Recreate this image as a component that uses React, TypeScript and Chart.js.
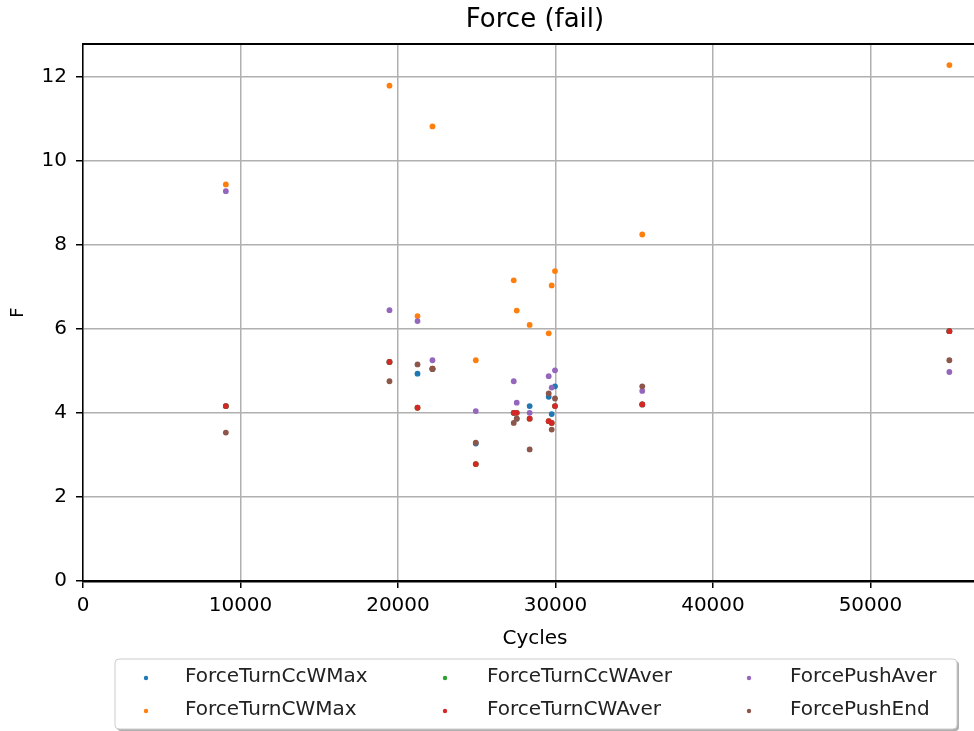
import { useEffect, useRef } from "react";
import { Chart, registerables } from "chart.js";

Chart.register(...registerables);

const cycles = [9070, 19460, 21240, 22190, 24940, 27350, 27540, 28360, 29570, 29760, 29970, 35510, 55010];
const forceTurnCcWMax = [4.16, 5.21, 4.93, 5.04, 3.27, 4.0, 3.86, 4.16, 4.38, 3.97, 4.63, 4.2, 5.94];
const forceTurnCWMax = [9.43, 11.78, 6.3, 10.81, 5.25, 7.15, 6.43, 6.09, 5.89, 7.03, 7.37, 8.24, 12.27];
const forceTurnCcWAver = [4.16, 5.21, 4.12, 5.05, 2.78, 4.0, 4.0, 3.86, 3.8, 3.76, 4.16, 4.2, 5.94];
const forceTurnCWAver = [4.16, 5.21, 4.12, 5.05, 2.78, 4.0, 4.0, 3.86, 3.8, 3.76, 4.16, 4.2, 5.94];
const forcePushAver = [9.27, 6.44, 6.18, 5.25, 4.04, 4.75, 4.24, 4.0, 4.87, 4.6, 5.01, 4.52, 4.97];
const forcePushEnd = [3.53, 4.75, 5.15, 5.04, 3.29, 3.76, 3.86, 3.13, 4.46, 3.6, 4.34, 4.63, 5.25];

const xTickValues = [0, 10000, 20000, 30000, 40000, 50000];
const yTickValues = [0, 2, 4, 6, 8, 10, 12];

const seriesLabels = [
  "ForceTurnCcWMax",
  "ForceTurnCWMax",
  "ForceTurnCcWAver",
  "ForceTurnCWAver",
  "ForcePushAver",
  "ForcePushEnd",
];
const seriesColors = ["#1f77b4", "#ff7f0e", "#2ca02c", "#d62728", "#9467bd", "#8c564b"];
const seriesValues = [forceTurnCcWMax, forceTurnCWMax, forceTurnCcWAver, forceTurnCWAver, forcePushAver, forcePushEnd];

const FONT = "'DejaVu Sans', sans-serif";

const framePlugin = {
  id: "frame",
  afterDraw(chart: any) {
    const { ctx, chartArea } = chart;
    ctx.save();
    ctx.strokeStyle = "#000";
    ctx.lineWidth = 2;
    ctx.beginPath();
    ctx.moveTo(chartArea.left, chartArea.top);
    ctx.lineTo(chartArea.right, chartArea.top);
    ctx.lineTo(chartArea.right, chartArea.bottom);
    ctx.stroke();

    // legend
    const bx = 115, by = 659, bw = 842, bh = 70, r = 4;
    const rr = (x: number, y: number, w: number, h: number) => {
      ctx.beginPath();
      ctx.moveTo(x + r, y);
      ctx.lineTo(x + w - r, y);
      ctx.quadraticCurveTo(x + w, y, x + w, y + r);
      ctx.lineTo(x + w, y + h - r);
      ctx.quadraticCurveTo(x + w, y + h, x + w - r, y + h);
      ctx.lineTo(x + r, y + h);
      ctx.quadraticCurveTo(x, y + h, x, y + h - r);
      ctx.lineTo(x, y + r);
      ctx.quadraticCurveTo(x, y, x + r, y);
      ctx.closePath();
    };
    ctx.fillStyle = "rgba(120,120,120,0.6)";
    rr(bx + 2, by + 2, bw, bh);
    ctx.fill();
    ctx.fillStyle = "#fff";
    rr(bx, by, bw, bh);
    ctx.fill();
    ctx.strokeStyle = "#cccccc";
    ctx.lineWidth = 1;
    ctx.stroke();

    const colMarker = [146, 445, 749];
    const colText = [185, 487, 790];
    const rowY = [677, 710];
    ctx.font = `20px ${FONT}`;
    ctx.textBaseline = "middle";
    ctx.textAlign = "left";
    chart.data.datasets.forEach((ds: any, i: number) => {
      const c = Math.floor(i / 2);
      const row = i % 2;
      ctx.fillStyle = ds.backgroundColor;
      ctx.beginPath();
      ctx.arc(colMarker[c], rowY[row] + 1, 2.2, 0, Math.PI * 2);
      ctx.fill();
      ctx.fillStyle = "#222";
      ctx.fillText(ds.label, colText[c], rowY[row]);
    });
    ctx.restore();
  },
};

export default function App() {
  const ref = useRef<HTMLCanvasElement>(null);
  useEffect(() => {
    const datasets = seriesLabels.map((label, k) => ({
      label,
      order: seriesLabels.length - k,
      data: cycles.map((x, i) => ({ x, y: seriesValues[k][i] })),
      backgroundColor: seriesColors[k],
      borderColor: seriesColors[k],
      pointRadius: 2.9,
      pointBorderWidth: 0,
      pointHoverRadius: 2.9,
    }));
    const chart = new Chart(ref.current!, {
      type: "scatter",
      data: { datasets },
      options: {
        animation: false,
        responsive: false,
        devicePixelRatio: 1,
        layout: { padding: { left: 0, right: 13, top: 0, bottom: 80 } },
        plugins: {
          legend: { display: false },
          tooltip: { enabled: false },
          title: {
            display: true,
            text: "Force (fail)",
            fullSize: false,
            color: "#000",
            font: { family: FONT, size: 26, weight: "normal" },
            padding: { top: 5, bottom: 7.8 },
          },
        },
        scales: {
          x: {
            type: "linear",
            min: 0,
            max: 57400,
            afterBuildTicks: (s: any) => {
              s.ticks = xTickValues.map((value) => ({ value }));
            },
            ticks: {
              autoSkip: false,
              color: "#000",
              font: { family: FONT, size: 20 },
              padding: 6,
              maxRotation: 0,
              minRotation: 0,
              callback: (v: any) => String(v),
            },
            grid: { color: "#b0b0b0", lineWidth: 1.5, tickColor: "#000", tickLength: 7, tickWidth: 1.5 },
            border: { color: "#000", width: 2.5 },
            title: {
              display: true,
              text: "Cycles",
              color: "#000",
              font: { family: FONT, size: 20 },
              padding: { top: 0, bottom: 0 },
            },
            afterFit: (s: any) => {
              s.height = 70;
            },
          },
          y: {
            type: "linear",
            min: 0,
            max: 12.77,
            afterBuildTicks: (s: any) => {
              s.ticks = yTickValues.map((value) => ({ value }));
            },
            ticks: {
              autoSkip: false,
              color: "#000",
              font: { family: FONT, size: 20 },
              padding: 9,
              callback: (v: any) => String(v),
            },
            grid: { color: "#b0b0b0", lineWidth: 1.5, tickColor: "#000", tickLength: 7, tickWidth: 1.5 },
            border: { color: "#000", width: 1.5 },
            title: {
              display: true,
              text: "F",
              color: "#000",
              font: { family: FONT, size: 18 },
              padding: { top: 8, bottom: 0 },
            },
            afterFit: (s: any) => {
              s.width = 83;
            },
          },
        },
      } as any,
      plugins: [framePlugin],
    });
    return () => chart.destroy();
  }, []);
  return (
    <div style={{ position: "absolute", left: 0, top: 0, width: 974, height: 731, overflow: "hidden", background: "#fff" }}>
      <canvas ref={ref} width={1000} height={731} style={{ display: "block" }} />
    </div>
  );
}
